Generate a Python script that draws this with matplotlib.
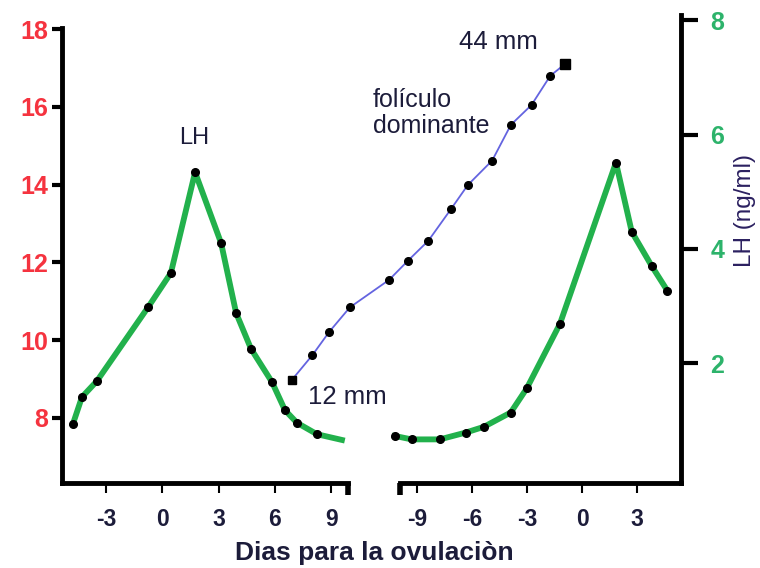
import matplotlib
matplotlib.use('Agg')
import matplotlib.pyplot as plt

plt.rcParams['font.family'] = ['Liberation Sans', 'DejaVu Sans']
plt.rcParams['axes.unicode_minus'] = False

RED = '#f5333f'
GREEN_TXT = '#2db36b'
LH_GREEN = '#22b14c'
FOLL_BLUE = '#6464e0'
NAVY = '#1c1c3a'

# LH curve after the first ovulation (days, ng/ml)
lh1_days = [-4.78, -4.30, -3.50, -0.77, 0.45, 1.74, 3.13, 3.93, 4.73, 5.85, 6.54, 7.18, 8.25, 9.58]
lh1_vals = [0.94, 1.41, 1.69, 2.98, 3.58, 5.34, 4.10, 2.88, 2.25, 1.67, 1.18, 0.96, 0.76, 0.66]

# LH curve around the next ovulation (days, ng/ml)
lh2_days = [-10.2, -9.29, -7.75, -6.33, -5.35, -3.89, -3.02, -1.21, 1.84, 2.70, 3.79, 4.64]
lh2_vals = [0.73, 0.67, 0.67, 0.79, 0.89, 1.14, 1.56, 2.69, 5.51, 4.30, 3.70, 3.27]

# dominant follicle (days after first ovulation, left scale)
foll_days = [6.9, 8.0, 8.9, 10.0, 12.1, 13.1, 14.2, 15.4, 16.3, 17.6, 18.6, 19.7, 20.7, 21.5]
foll_vals = [8.97, 9.61, 10.21, 10.84, 11.55, 12.04, 12.56, 13.37, 13.99, 14.62, 15.54, 16.05, 16.80, 17.11]

left_ticks = [8, 10, 12, 14, 16, 18]
right_ticks = [2, 4, 6, 8]
x1_ticks = [-3, 0, 3, 6, 9]
x2_ticks = [-9, -6, -3, 0, 3]

fig = plt.figure(figsize=(7.6, 5.68), dpi=100)
ax_l = fig.add_axes([0.0812, 0.1496, 0.3771, 0.801])
ax_r = fig.add_axes([0.5263, 0.1496, 0.3697, 0.824])
ax_lh = ax_l.twinx()

ax_l.set_xlim(-5.38, 9.92)
ax_l.set_ylim(6.32, 18.03)
ax_lh.set_ylim(-0.093, 7.86)
ax_r.set_xlim(-9.92, 5.38)
ax_r.set_ylim(-0.093, 8.09)

for ax in (ax_l, ax_r, ax_lh):
    for s in ax.spines.values():
        s.set_linewidth(3.5)
    ax.patch.set_alpha(0)

ax_l.spines['top'].set_visible(False)
ax_l.spines['right'].set_visible(False)
for s in ax_lh.spines.values():
    s.set_visible(False)
ax_lh.set_yticks([])
ax_r.spines['top'].set_visible(False)
ax_r.spines['left'].set_visible(False)

# left y axis
ax_l.set_yticks(left_ticks)
ax_l.tick_params(axis='y', length=7, width=3, pad=3, labelsize=18, labelcolor=RED)
for t in ax_l.get_yticklabels():
    t.set_fontweight('bold')

# right y axis
ax_r.yaxis.tick_right()
ax_r.set_yticks(right_ticks)
ax_r.tick_params(axis='y', length=12, width=3, pad=9, labelsize=18, labelcolor=GREEN_TXT)
for t in ax_r.get_yticklabels():
    t.set_fontweight('bold')

# x axes
ax_l.set_xticks(x1_ticks)
ax_r.set_xticks(x2_ticks)
for ax in (ax_l, ax_r):
    ax.tick_params(axis='x', length=7, width=1.5, pad=11, labelsize=16.5, labelcolor=NAVY)
    for t in ax.get_xticklabels():
        t.set_fontweight('bold')

# break stubs
ax_l.plot([1, 1], [0, -0.026], transform=ax_l.transAxes, color='black', lw=4,
          solid_capstyle='butt', clip_on=False)
ax_r.plot([0, 0], [0, -0.026], transform=ax_r.transAxes, color='black', lw=4,
          solid_capstyle='butt', clip_on=False)

# LH curves
ax_lh.plot(lh1_days, lh1_vals, color=LH_GREEN, lw=4.2, solid_joinstyle='round',
           marker='o', ms=5.5, mfc='black', mec='black', markevery=list(range(len(lh1_days) - 1)))
ax_r.plot(lh2_days, lh2_vals, color=LH_GREEN, lw=4.2, solid_joinstyle='round',
          marker='o', ms=5.5, mfc='black', mec='black', clip_on=False)

# dominant follicle, spans both panels
ax_l.plot(foll_days, foll_vals, color=FOLL_BLUE, lw=1.3, marker='o', ms=5.5,
          mfc='black', mec='black', clip_on=False, zorder=5)
ax_l.plot([foll_days[0]], [foll_vals[0]], 's', color='black', ms=6, clip_on=False, zorder=6)
ax_l.plot([foll_days[-1]], [foll_vals[-1]], 's', color='black', ms=7.5, clip_on=False, zorder=6)

# labels
ax_l.text(1.68, 15.2, 'LH', fontsize=17, color=NAVY, ha='center', va='center')
ax_l.text(11.22, 15.85, 'folículo\ndominante', fontsize=18, color=NAVY,
          ha='left', va='center', linespacing=1.1, clip_on=False)
ax_l.text(17.91, 17.66, '44 mm', fontsize=18.5, color=NAVY, ha='center', va='center', clip_on=False)
ax_l.text(9.85, 8.53, '12 mm', fontsize=18.5, color=NAVY, ha='center', va='center', clip_on=False)

fig.text(745 / 760, 1 - 210 / 568, 'LH (ng/ml)', rotation=90, fontsize=17.5, color='#2b2060',
         ha='center', va='center')
fig.text(374 / 760, 1 - 553 / 568, 'Dias para la ovulaciòn', fontsize=19, fontweight='bold',
         color=NAVY, ha='center', va='center')

fig.savefig('out.png', dpi=100)
